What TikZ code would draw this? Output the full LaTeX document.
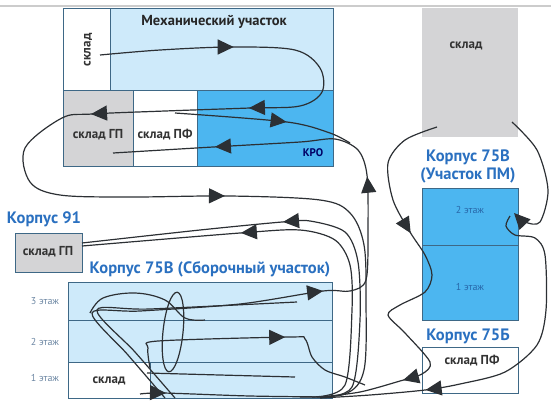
\documentclass[tikz,border=0pt]{standalone}
\usepackage{fontspec}
\setmainfont{PT Sans}
\usetikzlibrary{arrows.meta,decorations.markings}

\definecolor{lightb}{RGB}{206,234,250}
\definecolor{midb}{RGB}{76,182,240}
\definecolor{storeg}{RGB}{212,212,214}
\definecolor{bordc}{RGB}{62,104,134}
\definecolor{headc}{RGB}{42,112,192}
\definecolor{floorc}{RGB}{110,136,164}
\definecolor{pmtext}{RGB}{40,104,170}
\definecolor{linec}{RGB}{44,48,52}

\tikzset{
  unit/.style={draw=bordc,line width=0.9pt,inner sep=0pt,outer sep=0pt,anchor=north west},
  flow/.style={draw=linec,line width=1.2pt},
  arr/.style={postaction={decorate,decoration={markings,mark=at position #1 with {\arrow{Triangle[length=16pt,width=15pt]}}}}},
  head/.style={text=headc,font=\bfseries\fontsize{16.5}{18}\selectfont},
  lbl/.style={text=black!80,font=\bfseries\fontsize{13}{14}\selectfont},
  floorlbl/.style={text=floorc,font=\fontsize{10}{11}\selectfont}
}

\begin{document}
\begin{tikzpicture}[x=1pt,y=-1pt]
	\useasboundingbox (0,0) rectangle (551,400);
	\draw[black!20,line width=1.5pt] (0,6) -- (551,6);

	\node[unit,fill=white,minimum width=47pt,minimum height=82pt] (mstore) at(63,8) {};
	\node[unit,fill=lightb,minimum width=223pt,minimum height=82pt] (mech) at(110,8) {};
	\node[unit,fill=storeg,minimum width=70pt,minimum height=76pt] (gp) at(63,90) {};
	\node[unit,fill=white,minimum width=64pt,minimum height=76pt] (pf) at(133,90) {};
	\node[unit,fill=midb,minimum width=136pt,minimum height=76pt] (kro) at(197,90) {};

	\node[unit,draw=none,fill=storeg,minimum width=96pt,minimum height=129pt] (rstore) at(422,8) {};
	\node[unit,fill=midb,minimum width=96pt,minimum height=57pt] (pm2) at(422,188) {};
	\node[unit,fill=midb,minimum width=96pt,minimum height=75pt] (pm1) at(422,245) {};
	\node[unit,fill=white,minimum width=96pt,minimum height=46pt] (pfstore) at(422,347) {};

	\node[unit,fill=storeg,minimum width=67pt,minimum height=39pt] (gp91) at(15,233) {};

	\node[unit,fill=lightb,minimum width=264pt,minimum height=40pt] (fl3) at(68,282) {};
	\node[unit,fill=lightb,minimum width=264pt,minimum height=42pt] (fl2) at(68,320) {};
	\node[unit,fill=lightb,minimum width=264pt,minimum height=36pt] (fl1) at(68,362) {};
	\node[unit,fill=white,minimum width=82pt,minimum height=36pt] (astore) at(68,362) {};

	\node[text=black!85,font=\bfseries\fontsize{14.5}{16}\selectfont] (mechT) at(214,22) {Механический участок};
	\node[lbl,rotate=90] (mstoreT) at(88,50) {склад};
	\node[lbl] (gpT) at(98,135) {склад ГП};
	\node[lbl] (pfT) at(165,135) {склад ПФ};
	\node[text=blue!40!black,font=\bfseries\fontsize{11}{12}\selectfont] (kroT) at(313,153) {КРО};
	\node[lbl] (rstoreT) at(466,46) {склад};
	\node[head] (k75vT) at(468,157) {Корпус 75В};
	\node[head] (pmT) at(468,175) {(Участок ПМ)};
	\node[floorlbl,text=pmtext] (pm2T) at(470,210) {2 этаж};
	\node[floorlbl,text=pmtext] (pm1T) at(470,287) {1 этаж};
	\node[head] (k75bT) at(468,336) {Корпус 75Б};
	\node[lbl] (pfstoreT) at(472,361) {склад ПФ};
	\node[head] (k91T) at(44,219) {Корпус 91};
	\node[lbl] (gp91T) at(48,252) {склад ГП};
	\node[head] (asmT) at(210,269) {Корпус 75В (Сборочный участок)};
	\node[floorlbl] (f3T) at(45,301) {3 этаж};
	\node[floorlbl] (f2T) at(45,342) {2 этаж};
	\node[floorlbl] (f1T) at(45,378) {1 этаж};
	\node[lbl] (astoreT) at(109,381) {склад};

	\draw[flow,arr=134pt,arr=330pt,arr=488pt,arr=800pt] plot[smooth,tension=0.55] coordinates {(100,55) (160,50) (232,47) (295,50) (320,68) (322,92) (300,106) (250,108) (165,111) (92,114) (62,118) (25,148) (30,182) (60,195) (130,197) (230,196) (320,200) (350,213) (364,245) (366,300) (364,370) (345,394) (300,397)};
	\draw[flow,arr=112pt] plot[smooth,tension=0.5] coordinates {(175,113) (287,122) (330,133) (350,143)};
	\draw[flow,arr=346pt,arr=497pt,arr=672pt] plot[smooth,tension=0.5] coordinates {(165,398) (128,355) (92,313) (140,311) (240,304) (323,291) (350,291) (366,280) (368,230) (367,175) (358,150) (335,139) (300,142) (213,147) (113,153)};
	\draw[flow] plot[smooth,tension=0.5] coordinates {(175,398) (135,352) (97,310) (150,309) (297,302)};
	\draw[flow] plot[smooth,tension=0.6] coordinates {(90,313) (103,298) (135,293) (165,300) (185,318) (205,320)};
	\draw[flow,rotate around={-6:(173,332)}] (173,332) ellipse[x radius=10pt,y radius=40pt];
	\draw[flow,arr=165pt] plot[smooth,tension=0.5] coordinates {(150,368) (148,348) (158,341) (290,337) (305,339) (312,357) (325,370) (345,377) (365,385)};
	\draw[flow] plot[smooth,tension=0.5] coordinates {(147,373) (220,375) (295,377)};
	\draw[flow,arr=26pt] plot[smooth,tension=0.5] coordinates {(140,394) (163,393) (250,396) (330,397)};
	\draw[flow,arr=258pt] plot[smooth,tension=0.5] coordinates {(320,397) (352,387) (360,320) (358,262) (345,232) (310,221) (282,222) (200,230) (82,243)};
	\draw[flow,arr=283pt] plot[smooth,tension=0.5] coordinates {(312,397) (345,385) (352,310) (350,265) (335,240) (300,230) (240,233) (82,246)};
	\draw[flow,arr=139pt,arr=349pt] plot[smooth,tension=0.5] coordinates {(437,127) (405,140) (388,163) (393,200) (410,232) (425,255) (432,275) (425,292) (400,305) (388,315) (405,333) (430,362) (422,374) (400,381) (360,392) (320,397)};
	\draw[flow,-{Triangle[length=16pt,width=15pt]}] plot[smooth,tension=0.5] coordinates {(512,122) (537,150) (548,190) (540,222) (525,222) (514,213)};
	\draw[flow,arr=280pt] plot[smooth,tension=0.5] coordinates {(510,216) (506,226) (515,235) (535,238) (545,255) (546,310) (537,345) (505,372) (460,384) (425,390) (370,395) (320,398)};
\end{tikzpicture}
\end{document}
